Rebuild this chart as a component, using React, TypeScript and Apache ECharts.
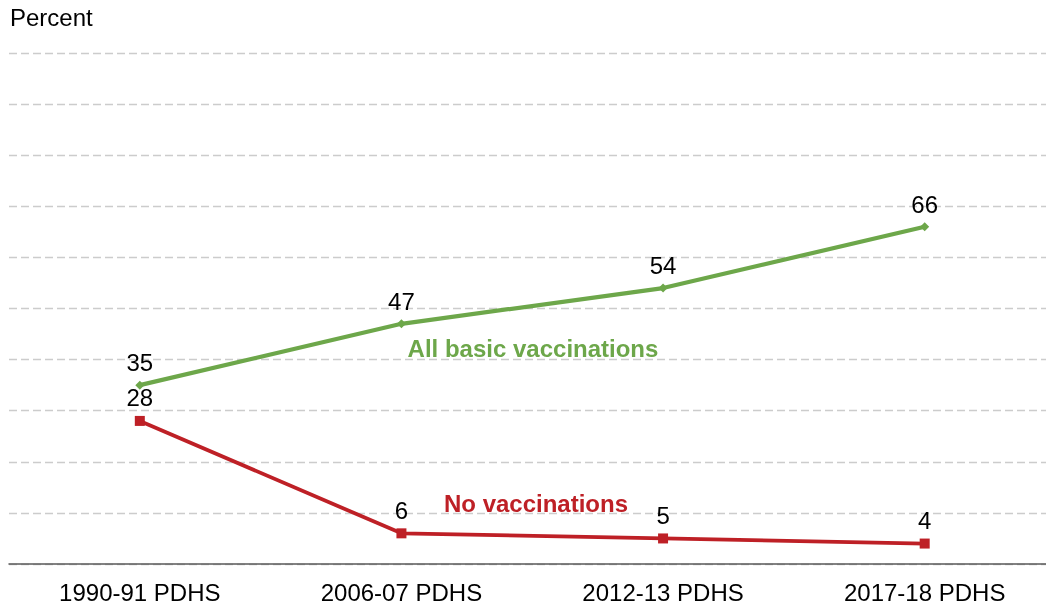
import React, { useEffect, useRef } from "react";
import * as echarts from "echarts";

const categories = ["1990-91 PDHS", "2006-07 PDHS", "2012-13 PDHS", "2017-18 PDHS"];
const allBasic = [35, 47, 54, 66];
const noVacc = [28, 6, 5, 4];
const seriesNames = ["All basic vaccinations", "No vaccinations"];

const GREEN = "#6DA74A";
const RED = "#BE2026";
const FONT = "'Liberation Sans', Arial, Helvetica, sans-serif";
const FS = 24;

export default function App() {
  const ref = useRef<HTMLDivElement>(null);
  useEffect(() => {
    const chart = echarts.init(ref.current!, null, { renderer: "svg" });
    const labelStyle = {
      show: true,
      position: "top" as const,
      distance: 6,
      fontSize: FS,
      color: "#000",
      fontFamily: FONT,
    };
    chart.setOption({
      animation: false,
      textStyle: { fontFamily: FONT },
      grid: { left: 9, top: 53, width: 1046.5, height: 511, containLabel: false },
      xAxis: {
        type: "category",
        data: categories,
        boundaryGap: true,
        axisLine: { show: true, lineStyle: { color: "#595959", width: 1.5 } },
        axisTick: { show: false },
        axisLabel: { fontSize: FS, color: "#000", fontFamily: FONT, margin: 16 },
        splitLine: { show: false },
      },
      yAxis: {
        type: "value",
        min: 0,
        max: 100,
        interval: 10,
        axisLine: { show: false },
        axisTick: { show: false },
        axisLabel: { show: false },
        splitLine: { show: true, lineStyle: { color: "#CCCCCC", type: [8, 4], width: 1.3 } },
      },
      graphic: [
        {
          type: "text",
          left: 10,
          top: 5,
          style: { text: "Percent", fontSize: FS, fill: "#000", fontFamily: FONT },
        },
        {
          type: "text",
          x: 533,
          y: 348,
          style: {
            text: seriesNames[0],
            fontSize: FS,
            fontWeight: "bold",
            fill: GREEN,
            fontFamily: FONT,
            align: "center",
            verticalAlign: "middle",
          },
        },
        {
          type: "text",
          x: 536,
          y: 503,
          style: {
            text: seriesNames[1],
            fontSize: FS,
            fontWeight: "bold",
            fill: RED,
            fontFamily: FONT,
            align: "center",
            verticalAlign: "middle",
          },
        },
      ],
      series: [
        {
          name: seriesNames[0],
          type: "line",
          data: allBasic,
          symbol: "diamond",
          symbolSize: 9,
          lineStyle: { color: GREEN, width: 4.2 },
          itemStyle: { color: GREEN },
          label: labelStyle,
          z: 3,
        },
        {
          name: seriesNames[1],
          type: "line",
          data: noVacc,
          symbol: "rect",
          symbolSize: 10,
          lineStyle: { color: RED, width: 3.8 },
          itemStyle: { color: RED },
          label: labelStyle,
          z: 3,
        },
      ],
    });
    return () => chart.dispose();
  }, []);
  return (
    <div style={{ position: "fixed", left: 0, top: 0, width: 1046, height: 606, overflow: "hidden" }}>
      <div ref={ref} style={{ width: 1060, height: 606 }} />
    </div>
  );
}
